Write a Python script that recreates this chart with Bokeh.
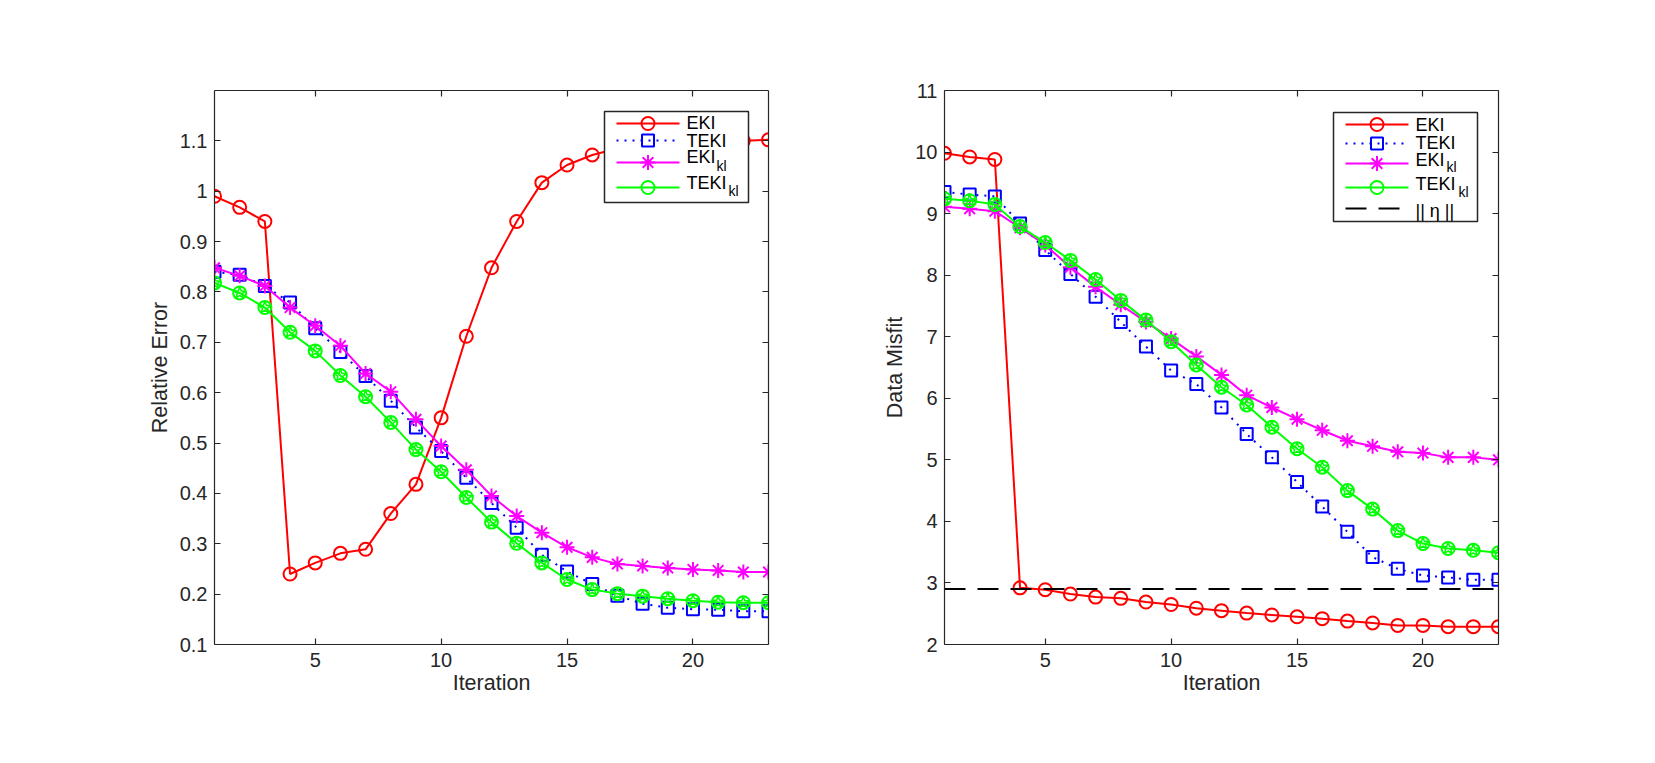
from bokeh.plotting import figure
from bokeh.layouts import row
from bokeh.models import LinearAxis, FixedTicker, Range1d, Label
from bokeh.embed import file_html
from bokeh.resources import INLINE

# ---- data -------------------------------------------------------------
iterations = list(range(1, 24))

rel_eki = [0.990, 0.968, 0.940, 0.240, 0.262, 0.281, 0.289, 0.360, 0.418, 0.550,
           0.712, 0.848, 0.940, 1.017, 1.052, 1.072, 1.085, 1.093, 1.097, 1.099,
           1.100, 1.100, 1.102]
rel_teki = [0.840, 0.834, 0.812, 0.779, 0.728, 0.681, 0.633, 0.584, 0.531, 0.484,
            0.431, 0.381, 0.332, 0.278, 0.245, 0.220, 0.197, 0.181, 0.173, 0.170,
            0.169, 0.166, 0.166]
rel_eki_kl = [0.848, 0.832, 0.812, 0.769, 0.733, 0.693, 0.638, 0.602, 0.547, 0.494,
              0.447, 0.395, 0.355, 0.322, 0.293, 0.273, 0.260, 0.256, 0.252, 0.249,
              0.247, 0.244, 0.244]
rel_teki_kl = [0.818, 0.798, 0.769, 0.720, 0.683, 0.634, 0.592, 0.541, 0.487, 0.443,
               0.392, 0.343, 0.301, 0.262, 0.229, 0.209, 0.201, 0.196, 0.191, 0.187,
               0.184, 0.183, 0.183]

mis_eki = [9.98, 9.92, 9.88, 2.92, 2.89, 2.82, 2.77, 2.75, 2.69, 2.65,
           2.59, 2.55, 2.51, 2.48, 2.45, 2.42, 2.38, 2.35, 2.31, 2.31,
           2.29, 2.29, 2.29]
mis_teki = [9.35, 9.31, 9.28, 8.84, 8.41, 8.02, 7.65, 7.24, 6.84, 6.45,
            6.23, 5.85, 5.42, 5.04, 4.64, 4.24, 3.83, 3.42, 3.23, 3.12,
            3.09, 3.05, 3.05]
mis_eki_kl = [9.11, 9.08, 9.04, 8.77, 8.49, 8.13, 7.81, 7.52, 7.24, 6.97,
              6.68, 6.38, 6.05, 5.85, 5.66, 5.48, 5.31, 5.22, 5.13, 5.11,
              5.04, 5.04, 5.00]
mis_teki_kl = [9.24, 9.21, 9.15, 8.79, 8.53, 8.24, 7.93, 7.59, 7.27, 6.92,
               6.54, 6.18, 5.89, 5.53, 5.18, 4.88, 4.50, 4.20, 3.85, 3.64,
               3.56, 3.53, 3.49]
eta_norm = 2.90

series_names = ["EKI", "TEKI", "EKI", "TEKI"]
series_subs = ["", "", "kl", "kl"]
eta_name = "|| η ||"

x_ticks = [5, 10, 15, 20]
rel_ticks = [0.1, 0.2, 0.3, 0.4, 0.5, 0.6, 0.7, 0.8, 0.9, 1.0, 1.1]
rel_tick_labels = ["0.1", "0.2", "0.3", "0.4", "0.5", "0.6", "0.7", "0.8", "0.9", "1", "1.1"]
mis_ticks = [2, 3, 4, 5, 6, 7, 8, 9, 10, 11]
mis_tick_labels = ["2", "3", "4", "5", "6", "7", "8", "9", "10", "11"]

# ---- style ------------------------------------------------------------
INK = "#262626"
FONT = "Liberation Sans"
RED, BLUE, MAGENTA, GREEN = "#ff0000", "#0000ff", "#ff00ff", "#00ff00"
FRAME_W, FRAME_H = 554, 554
TOP, BOTTOM = 90, 118

STYLES = [
    dict(color=RED, dash="solid", marker="circle", size=13),
    dict(color=BLUE, dash="2 6", marker="square", size=12),
    dict(color=MAGENTA, dash="solid", marker="asterisk", size=15),
    dict(color=GREEN, dash="solid", marker="circle", size=13),
]
ETA_STYLE = dict(color="black", dash="21 12")


def style_axis(ax, ticks, labels=None, show_labels=True):
    ax.ticker = FixedTicker(ticks=ticks)
    ax.axis_line_color = INK
    ax.axis_line_width = 1.2
    ax.major_tick_line_color = INK
    ax.major_tick_line_width = 1.2
    ax.major_tick_in = 6
    ax.major_tick_out = 0
    ax.minor_tick_line_color = None
    ax.major_label_text_font = FONT
    ax.major_label_text_color = INK
    ax.major_label_text_font_size = "20px"
    ax.axis_label_text_font = FONT
    ax.axis_label_text_color = INK
    ax.axis_label_text_font_style = "normal"
    ax.axis_label_text_font_size = "21.5px"
    if show_labels:
        if labels is not None:
            ax.major_label_overrides = dict(zip(ticks, labels))
    else:
        # mirrored box edge: ticks only, no labels
        ax.major_label_text_color = None
        ax.major_label_standoff = 0


def make_panel(y_lo, y_hi, y_ticks, y_labels, ylabel, left, right):
    p = figure(output_backend="svg", toolbar_location=None, tools="",
               frame_width=FRAME_W, frame_height=FRAME_H,
               min_border_left=left, min_border_right=right,
               min_border_top=TOP, min_border_bottom=BOTTOM,
               x_range=Range1d(iterations[0], iterations[-1]),
               y_range=Range1d(y_lo, y_hi))
    # pixel-space ranges of the plot frame, used to lay out the key box
    p.extra_x_ranges = {"px": Range1d(0, FRAME_W)}
    p.extra_y_ranges = {"px": Range1d(0, FRAME_H)}
    p.outline_line_color = None
    p.xgrid.visible = False
    p.ygrid.visible = False
    p.background_fill_color = "white"
    p.border_fill_color = "white"

    style_axis(p.xaxis[0], x_ticks)
    p.xaxis[0].axis_label = "Iteration"
    p.xaxis[0].major_label_standoff = 8
    p.xaxis[0].axis_label_standoff = 1

    style_axis(p.yaxis[0], y_ticks, y_labels)
    p.yaxis[0].axis_label = ylabel
    p.yaxis[0].major_label_standoff = 7
    p.yaxis[0].axis_label_standoff = 5

    top_ax = LinearAxis()
    style_axis(top_ax, x_ticks, show_labels=False)
    p.add_layout(top_ax, "above")
    right_ax = LinearAxis()
    style_axis(right_ax, y_ticks, show_labels=False)
    p.add_layout(right_ax, "right")
    return p


def draw_series(p, all_values):
    for values, st in zip(all_values, STYLES):
        p.line(iterations, values, line_color=st["color"], line_width=2,
               line_dash=st["dash"])
        p.scatter(iterations, values, marker=st["marker"], size=st["size"],
                  line_color=st["color"], fill_color=None, line_width=2)
    # TEKI_kl markers carry an extra pentagram inside the circle
    p.scatter(iterations, all_values[3], marker="star", size=13, line_color=GREEN,
              fill_color=None, line_width=1.5)


def text(p, x, y, s, size="18px", style="normal"):
    p.add_layout(Label(x=x, y=y, x_units="screen", y_units="screen", text=s,
                       text_font=FONT, text_font_size=size, text_color="black",
                       text_font_style=style, text_baseline="alphabetic",
                       level="overlay"))


def draw_key(p, box, sample, text_x, rows, styles, names, subs):
    """Boxed key in frame pixels (origin bottom-left of the frame).
    box = (left, right, bottom, top); sample = (x0, x1);
    rows = [(line_y, baseline_y, sub_x, sub_baseline_y), ...]"""
    left, right, bottom, top = box
    p.quad(left=[left], right=[right], bottom=[bottom], top=[top],
           x_range_name="px", y_range_name="px",
           fill_color="white", line_color=INK, line_width=1.5)
    x0, x1 = sample
    xm = (x0 + x1) / 2
    for (ly, by, sx, sy), st, name, sub in zip(rows, styles, names, subs):
        p.line([x0, x1], [ly, ly], x_range_name="px", y_range_name="px",
               line_color=st["color"], line_width=2, line_dash=st["dash"])
        if "marker" in st:
            p.scatter([xm], [ly], x_range_name="px", y_range_name="px",
                      marker=st["marker"], size=st["size"], line_color=st["color"],
                      fill_color=None, line_width=2)
        text(p, text_x, by, name)
        if sub:
            text(p, sx, sy, sub, size="14px")


# ---- left panel: relative error ---------------------------------------
p1 = make_panel(0.1, 1.2, rel_ticks, rel_tick_labels, "Relative Error", 214, 87)
draw_series(p1, [rel_eki, rel_teki, rel_eki_kl, rel_teki_kl])
draw_key(p1, box=(390, 534, 442, 533), sample=(402, 465), text_x=472,
         rows=[(521, 522, 0, 0), (504, 504, 0, 0),
               (482, 488, 502, 479), (457, 462, 514, 454)],
         styles=STYLES, names=series_names, subs=series_subs)

# ---- right panel: data misfit -----------------------------------------
p2 = make_panel(2, 11, mis_ticks, mis_tick_labels, "Data Misfit", 89, 158)
draw_series(p2, [mis_eki, mis_teki, mis_eki_kl, mis_teki_kl])
p2.line([iterations[0], iterations[-1]], [eta_norm, eta_norm],
        line_color=ETA_STYLE["color"], line_width=2, line_dash=ETA_STYLE["dash"])
draw_key(p2, box=(389, 533, 423, 532), sample=(401, 464), text_x=471,
         rows=[(520, 520, 0, 0), (501, 502, 0, 0),
               (481, 485, 502, 478), (457, 461, 514, 453), (436, 434, 0, 0)],
         styles=STYLES + [ETA_STYLE], names=series_names + [eta_name],
         subs=series_subs + [""])

layout = row(p1, p2)
open("out.html", "w").write(file_html(layout, INLINE))
